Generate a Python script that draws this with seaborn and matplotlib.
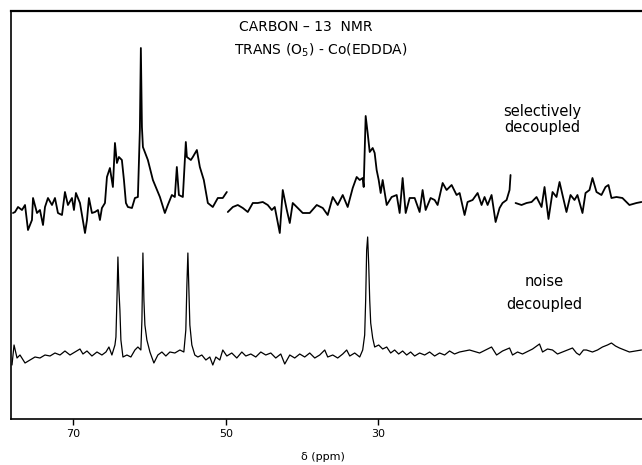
import numpy as np
import pandas as pd
import matplotlib
matplotlib.use("Agg")
import matplotlib.pyplot as plt
import seaborn as sns

# chemical shift (ppm) and trace height (arbitrary units)
# None marks a break in the pen trace
sel_ppm = [
    77.94, 77.67, 77.28, 76.76, 76.36, 75.97, 75.45, 75.31, 74.79, 74.40,
    74.00, 73.74, 73.35, 72.82, 72.43, 72.04, 71.51, 71.12, 70.73, 70.20,
    69.94, 69.68, 69.15, 68.49, 68.23, 67.97, 67.58, 67.18, 66.79, 66.53,
    66.27, 65.87, 65.61, 65.22, 64.83, 64.56, 64.30, 64.04, 63.65, 63.38,
    63.12, 62.86, 62.33, 61.94, 61.55, 61.29, 61.16, 61.02, 60.89, 60.24,
    59.58, 58.66, 58.01, 57.62, 57.09, 56.70, 56.44, 56.17, 55.65, 55.26,
    55.12, 54.60, 54.34, 53.81, 53.42, 52.90, 52.37, 51.72, 51.06, 50.41,
    49.88, None,
    49.75, 49.09, 48.44, 47.78, 47.13, 46.47, 45.82, 45.16, 44.51, 43.98,
    43.59, 42.93, 42.54, 42.01, 41.62, 41.23, 40.57, 39.92, 39.00, 38.08,
    37.29, 36.64, 35.98, 35.33, 34.67, 34.02, 33.36, 32.84, 32.44, 32.05,
    31.92, 31.66, 31.40, 31.13, 30.74, 30.48, 30.22, 29.95, 29.69, 29.43,
    28.90, 28.25, 27.59, 27.20, 26.81, 26.41, 25.89, 25.23, 24.58, 24.19,
    23.79, 23.14, 22.61, 22.22, 21.56, 21.04, 20.38, 19.73, 19.33, 18.68,
    18.29, 17.63, 16.97, 16.45, 16.06, 15.66, 15.14, 14.61, 14.09, 13.70,
    13.17, 12.78, 12.65, None,
    11.99, 11.21, 10.55, 9.89, 9.24, 8.58, 8.19, 7.67, 7.14, 6.62,
    6.22, 5.83, 5.31, 4.78, 4.26, 3.87, 3.21, 2.81, 2.29, 1.90,
    1.37, 0.72, 0.19, -0.20, -0.59, -1.25, -2.03, -2.95, -3.87, -4.53,
]
sel_height = [
    206, 207, 212, 209, 214, 189, 199, 221, 206, 209,
    194, 212, 221, 214, 221, 206, 204, 227, 214, 221,
    209, 226, 216, 186, 199, 221, 206, 207, 209, 199,
    211, 216, 242, 251, 232, 276, 256, 262, 259, 239,
    216, 212, 211, 221, 222, 289, 371, 292, 272, 259,
    239, 222, 206, 214, 224, 222, 252, 224, 222, 277,
    262, 259, 262, 269, 252, 239, 216, 212, 221, 221,
    227, None,
    207, 212, 214, 211, 207, 216, 216, 217, 214, 209,
    212, 186, 229, 209, 196, 216, 211, 206, 206, 214,
    211, 204, 222, 214, 224, 212, 231, 242, 239, 241,
    232, 303, 286, 267, 271, 266, 249, 239, 226, 239,
    214, 222, 224, 206, 241, 206, 221, 221, 207, 229,
    209, 221, 219, 214, 236, 229, 234, 224, 226, 204,
    217, 219, 226, 214, 222, 214, 224, 197, 211, 216,
    219, 229, 244, None,
    216, 214, 216, 217, 222, 212, 232, 200, 227, 222,
    237, 224, 207, 224, 219, 224, 206, 226, 229, 241,
    227, 224, 232, 234, 221, 222, 221, 214, 216, 217,
]

noise_ppm = [
    78.07, 77.80, 77.41, 77.02, 76.36, 75.71, 75.05, 74.40, 73.74, 73.08,
    72.43, 71.77, 71.12, 70.46, 69.81, 69.15, 68.76, 68.23, 67.58, 66.92,
    66.27, 65.74, 65.35, 64.96, 64.56, 64.43, 64.30, 64.17, 64.04, 63.91,
    63.78, 63.51, 62.99, 62.47, 61.94, 61.55, 61.16, 61.02, 60.89, 60.76,
    60.63, 60.37, 59.97, 59.45, 58.93, 58.40, 57.88, 57.35, 56.70, 56.04,
    55.52, 55.26, 55.12, 54.99, 54.86, 54.73, 54.47, 54.08, 53.68, 53.16,
    52.63, 52.11, 51.72, 51.32, 50.80, 50.41, 49.88, 49.23, 48.57, 47.91,
    47.39, 46.73, 46.08, 45.42, 44.77, 44.11, 43.46, 42.80, 42.28, 41.62,
    40.97, 40.31, 39.66, 39.00, 38.34, 37.69, 37.03, 36.64, 35.98, 35.33,
    34.67, 34.15, 33.75, 33.10, 32.44, 32.05, 31.79, 31.66, 31.53, 31.40,
    31.26, 31.13, 31.00, 30.74, 30.48, 29.95, 29.43, 28.90, 28.38, 27.86,
    27.33, 26.81, 26.28, 25.76, 25.23, 24.58, 23.92, 23.27, 22.61, 21.96,
    21.30, 20.65, 20.00, 19.34, 18.03, 16.71, 15.14, 14.48, 13.70, 12.78,
    12.39, 11.73, 11.08, 10.55, 9.76, 8.85, 8.45, 7.80, 7.14, 6.49,
    5.83, 5.17, 4.52, 4.00, 3.60, 3.08, 2.69, 1.90, 1.24, 0.59,
    -0.07, -0.59, -1.12, -1.64, -2.30, -2.95, -3.74, -4.53,
]
noise_height = [
    54, 74, 61, 64, 56, 59, 62, 61, 64, 63,
    66, 64, 68, 64, 67, 70, 65, 68, 63, 67,
    64, 67, 72, 64, 74, 82, 119, 162, 129, 109,
    79, 62, 64, 62, 69, 72, 69, 99, 166, 119,
    94, 79, 67, 56, 64, 67, 63, 67, 66, 69,
    67, 89, 134, 166, 129, 94, 74, 64, 62, 64,
    59, 62, 54, 62, 59, 69, 63, 66, 61, 67,
    63, 65, 62, 67, 64, 66, 61, 65, 55, 64,
    61, 65, 62, 66, 61, 64, 69, 62, 64, 61,
    65, 69, 63, 66, 62, 69, 84, 119, 169, 182,
    154, 119, 96, 81, 72, 74, 70, 72, 66, 69,
    65, 68, 64, 67, 63, 66, 64, 67, 63, 66,
    64, 68, 65, 67, 69, 66, 72, 64, 68, 71,
    64, 67, 65, 67, 70, 75, 67, 70, 69, 65,
    67, 69, 71, 66, 64, 69, 69, 67, 69, 72,
    74, 76, 73, 71, 69, 67, 68, 69,
]

x_ticks = [70, 50, 30]
x_limits = (78.2, -4.6)
y_limits = (0, 408)


def to_frame(ppm, height, name):
    rows = []
    seg = 0
    for p, h in zip(ppm, height):
        if p is None:
            seg += 1
            continue
        rows.append({"ppm": p, "height": h, "seg": f"{name}{seg}"})
    return pd.DataFrame(rows)


sel_df = to_frame(sel_ppm, sel_height, "sel")
noise_df = to_frame(noise_ppm, noise_height, "noise")

sns.set_style("white")
plt.rcParams["font.family"] = ["DejaVu Sans"]
plt.rcParams["text.color"] = "black"
plt.rcParams["xtick.color"] = "black"

fig = plt.figure(figsize=(6.42, 4.65), dpi=100)
ax = fig.add_axes([11 / 642, 46 / 465, 631 / 642, 408 / 465])

sns.lineplot(data=sel_df, x="ppm", y="height", units="seg", estimator=None,
             sort=False, color="black", linewidth=1.3, ax=ax)
sns.lineplot(data=noise_df, x="ppm", y="height", units="seg", estimator=None,
             sort=False, color="black", linewidth=0.9, ax=ax)

ax.set_xlim(*x_limits)
ax.set_ylim(*y_limits)
ax.set_xticks(x_ticks)
ax.set_xticklabels([str(t) for t in x_ticks], fontsize=8, color="black")
ax.set_yticks([])
ax.set_ylabel("")
ax.set_xlabel("")
ax.tick_params(axis="x", direction="out", length=4, width=1, pad=3, bottom=True)
for side in ["top", "left", "bottom"]:
    ax.spines[side].set_color("black")
    ax.spines[side].set_linewidth(1.2)
ax.spines["top"].set_linewidth(1.6)
ax.spines["right"].set_visible(False)

fig.text(306 / 642, 1 - 27 / 465, "CARBON – 13  NMR", ha="center", va="center", fontsize=10)
fig.text(321 / 642, 1 - 50 / 465, "TRANS (O$_5$) - Co(EDDDA)", ha="center", va="center", fontsize=10)
fig.text(542 / 642, 1 - 111 / 465, "selectively", ha="center", va="center", fontsize=10.5)
fig.text(542 / 642, 1 - 127 / 465, "decoupled", ha="center", va="center", fontsize=10.5)
fig.text(544 / 642, 1 - 281 / 465, "noise", ha="center", va="center", fontsize=10.5)
fig.text(544 / 642, 1 - 305 / 465, "decoupled", ha="center", va="center", fontsize=10.5)
fig.text(323 / 642, 1 - 457 / 465, "δ (ppm)", ha="center", va="center", fontsize=8)

fig.savefig("out.png", dpi=100)
